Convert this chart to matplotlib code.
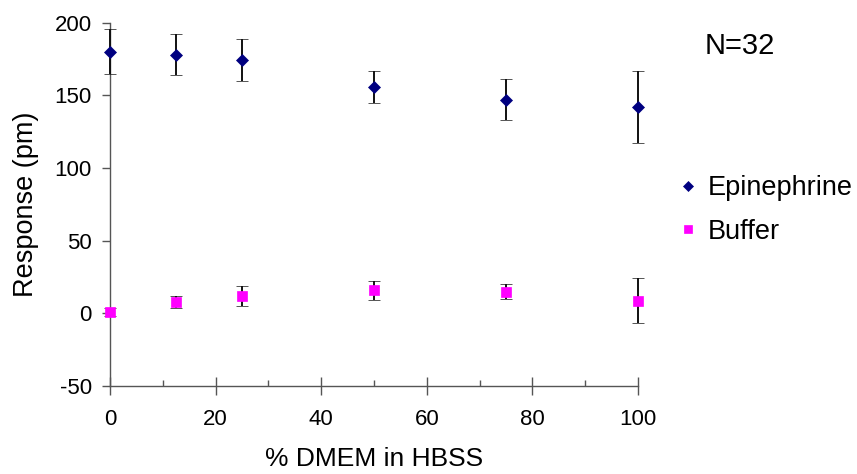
import matplotlib.pyplot as plt
from matplotlib.ticker import MultipleLocator

plt.rcParams['font.family'] = ['Liberation Sans', 'DejaVu Sans']
plt.rcParams['axes.unicode_minus'] = False

# values
dmem_pct = [0, 12.5, 25, 50, 75, 100]
epi_mean = [180, 178, 174.5, 156, 147, 142]
epi_err = [15.5, 14, 14.5, 11, 14, 24.5]
buf_mean = [1, 7.8, 12, 16, 15, 8.7]
buf_err = [3, 4.3, 7, 6.5, 5, 15.5]

fig = plt.figure(figsize=(8.57, 4.74), dpi=100)
ax = fig.add_axes([110 / 857, 1 - 386 / 474, 528 / 857, 363.3 / 474])

axis_col = '#555555'

ax.errorbar(dmem_pct, epi_mean, yerr=epi_err, fmt='D', color='#000080',
            ms=6, mew=0.5, ecolor='#111111', elinewidth=1.4, capsize=4.5,
            capthick=1.4, label='Epinephrine', clip_on=False, zorder=3)
ax.errorbar(dmem_pct, buf_mean, yerr=buf_err, fmt='s', color='#FF00FF',
            ms=7.2, mew=0.5, ecolor='#111111', elinewidth=1.4, capsize=4.5,
            capthick=1.4, label='Buffer', clip_on=False, zorder=3)

ax.set_xlim(0, 100)
ax.set_ylim(-50, 200)
ax.xaxis.set_major_locator(MultipleLocator(20))
ax.xaxis.set_minor_locator(MultipleLocator(10))
ax.yaxis.set_major_locator(MultipleLocator(50))

for side in ['top', 'right']:
    ax.spines[side].set_visible(False)
for side in ['left', 'bottom']:
    ax.spines[side].set_color(axis_col)
    ax.spines[side].set_linewidth(1)

ax.tick_params(axis='x', which='major', direction='inout', length=13,
               width=1, color=axis_col, labelsize=16, pad=10)
ax.tick_params(axis='x', which='minor', direction='in', length=4,
               width=1, color=axis_col)
ax.tick_params(axis='y', which='major', direction='out', length=6,
               width=1, color=axis_col, labelsize=16, pad=7)

ax.set_xlabel('% DMEM in HBSS', fontsize=19, labelpad=12)
ax.set_ylabel('Response (pm)', fontsize=19.5)
ax.yaxis.set_label_coords(-0.135, 0.5)

fig.text(705 / 857, 1 - 46 / 474, 'N=32', fontsize=21, va='center', ha='left')

handles, labels = ax.get_legend_handles_labels()
handles = [h[0] for h in handles]
fig.legend(handles, labels, loc='upper left',
           bbox_to_anchor=(674 / 857, 1 - 175 / 474), frameon=False,
           fontsize=19.5, handlelength=1, handletextpad=0.25, borderpad=0,
           borderaxespad=0, labelspacing=0.65, markerscale=0.85)

fig.savefig('out.png', dpi=100)
